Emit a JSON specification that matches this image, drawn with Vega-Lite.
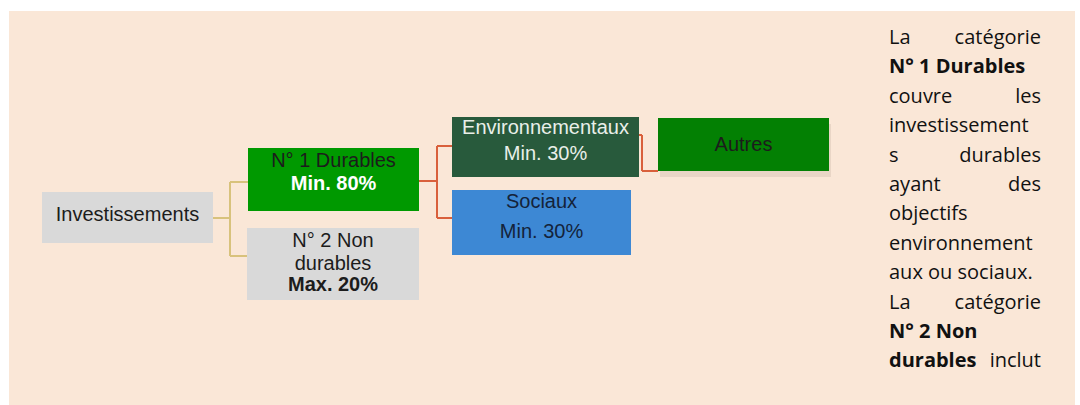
{
  "$schema": "https://vega.github.io/schema/vega-lite/v6.json",
  "width": 1080,
  "height": 405,
  "autosize": {"type": "fit", "contains": "padding"},
  "padding": 0,
  "background": "#ffffff",
  "config": {"view": {"stroke": null}},
  "datasets": {
    "boxes": [
      {"id": "fond", "x0": 9, "x1": 1075, "y0": 11, "y1": 405},
      {"id": "ombre", "x0": 660, "x1": 831, "y0": 124, "y1": 177},
      {"id": "inv", "x0": 42, "x1": 213, "y0": 192, "y1": 243},
      {"id": "d1", "x0": 248, "x1": 419, "y0": 148, "y1": 211},
      {"id": "d2", "x0": 247, "x1": 419, "y0": 228, "y1": 300},
      {"id": "env", "x0": 452, "x1": 639, "y0": 117, "y1": 177},
      {"id": "soc", "x0": 452, "x1": 631, "y0": 190, "y1": 255},
      {"id": "aut", "x0": 658, "x1": 829, "y0": 118, "y1": 171}
    ],
    "links": [
      {"grp": "tan", "x0": 213, "y0": 218, "x1": 230, "y1": 218},
      {"grp": "tan", "x0": 230, "y0": 182, "x1": 230, "y1": 256},
      {"grp": "tan", "x0": 230, "y0": 182, "x1": 248, "y1": 182},
      {"grp": "tan", "x0": 230, "y0": 256, "x1": 247, "y1": 256},
      {"grp": "red", "x0": 419, "y0": 181, "x1": 437, "y1": 181},
      {"grp": "red", "x0": 437, "y0": 146, "x1": 437, "y1": 218},
      {"grp": "red", "x0": 437, "y0": 146, "x1": 452, "y1": 146},
      {"grp": "red", "x0": 437, "y0": 218, "x1": 452, "y1": 218},
      {"grp": "red", "x0": 639, "y0": 135, "x1": 642, "y1": 135},
      {"grp": "red", "x0": 642, "y0": 135, "x1": 642, "y1": 171},
      {"grp": "red", "x0": 642, "y0": 171, "x1": 658, "y1": 171}
    ],
    "labels": [
      {"t": "Investissements", "x": 127.5, "y": 221, "w": "n", "tone": "dark"},
      {"t": "N° 1 Durables", "x": 333.5, "y": 167, "w": "n", "tone": "dark"},
      {"t": "Min. 80%", "x": 333.5, "y": 190, "w": "b", "tone": "white"},
      {"t": "N° 2 Non", "x": 333, "y": 247, "w": "n", "tone": "dark"},
      {"t": "durables", "x": 333, "y": 270, "w": "n", "tone": "dark"},
      {"t": "Max. 20%", "x": 333, "y": 291, "w": "b", "tone": "dark"},
      {"t": "Environnementaux", "x": 545.5, "y": 134, "w": "n", "tone": "light"},
      {"t": "Min. 30%", "x": 545.5, "y": 160, "w": "n", "tone": "light"},
      {"t": "Sociaux", "x": 541.5, "y": 208, "w": "n", "tone": "navy"},
      {"t": "Min. 30%", "x": 541.5, "y": 238, "w": "n", "tone": "navy"},
      {"t": "Autres", "x": 743.5, "y": 151, "w": "n", "tone": "dark"}
    ],
    "para": [
      {"t": "La", "line": 1, "side": "L", "w": "n"},
      {"t": "catégorie", "line": 1, "side": "R", "w": "n"},
      {"t": "N° 1 Durables", "line": 2, "side": "L", "w": "b"},
      {"t": "couvre", "line": 3, "side": "L", "w": "n"},
      {"t": "les", "line": 3, "side": "R", "w": "n"},
      {"t": "investissement", "line": 4, "side": "L", "w": "n"},
      {"t": "s", "line": 5, "side": "L", "w": "n"},
      {"t": "durables", "line": 5, "side": "R", "w": "n"},
      {"t": "ayant", "line": 6, "side": "L", "w": "n"},
      {"t": "des", "line": 6, "side": "R", "w": "n"},
      {"t": "objectifs", "line": 7, "side": "L", "w": "n"},
      {"t": "environnement", "line": 8, "side": "L", "w": "n"},
      {"t": "aux ou sociaux.", "line": 9, "side": "L", "w": "n"},
      {"t": "La", "line": 10, "side": "L", "w": "n"},
      {"t": "catégorie", "line": 10, "side": "R", "w": "n"},
      {"t": "N° 2 Non", "line": 11, "side": "L", "w": "b"},
      {"t": "durables", "line": 12, "side": "L", "w": "b"},
      {"t": "inclut", "line": 12, "side": "R", "w": "n"}
    ],
    "cols": [
      {"side": "L", "x": 889},
      {"side": "R", "x": 1041}
    ],
    "rows": [
      {"line": 1, "y": 44}, {"line": 2, "y": 73.4}, {"line": 3, "y": 102.8},
      {"line": 4, "y": 132.2}, {"line": 5, "y": 161.6}, {"line": 6, "y": 191},
      {"line": 7, "y": 220.4}, {"line": 8, "y": 249.8}, {"line": 9, "y": 279.2},
      {"line": 10, "y": 308.6}, {"line": 11, "y": 338}, {"line": 12, "y": 367.4}
    ]
  },
  "layer": [
    {
      "data": {"name": "boxes"},
      "mark": {"type": "rect"},
      "encoding": {
        "x": {"field": "x0", "type": "quantitative", "scale": {"domain": [0, 1080], "nice": false, "zero": false}, "axis": null},
        "x2": {"field": "x1"},
        "y": {"field": "y0", "type": "quantitative", "scale": {"domain": [0, 405], "nice": false, "zero": false, "reverse": true}, "axis": null},
        "y2": {"field": "y1"},
        "color": {"field": "id", "type": "nominal", "legend": null,
          "scale": {"domain": ["fond", "ombre", "inv", "d1", "d2", "env", "soc", "aut"],
                    "range": ["#fae7d7", "#e9d6c6", "#d9d9d9", "#009900", "#d9d9d9", "#285a3c", "#3d88d4", "#038003"]}}
      }
    },
    {
      "data": {"name": "links"},
      "mark": {"type": "rule", "strokeWidth": 2},
      "encoding": {
        "x": {"field": "x0", "type": "quantitative", "scale": {"domain": [0, 1080], "nice": false, "zero": false}, "axis": null},
        "x2": {"field": "x1"},
        "y": {"field": "y0", "type": "quantitative", "scale": {"domain": [0, 405], "nice": false, "zero": false, "reverse": true}, "axis": null},
        "y2": {"field": "y1"},
        "color": {"field": "grp", "type": "nominal", "legend": null,
          "scale": {"domain": ["tan", "red"], "range": ["#d8c27c", "#d9603c"]}}
      }
    },
    {
      "data": {"name": "labels"},
      "transform": [{"filter": "datum.w == 'n'"}],
      "mark": {"type": "text", "font": "Liberation Sans", "fontSize": 20, "align": "center", "baseline": "alphabetic"},
      "encoding": {
        "x": {"field": "x", "type": "quantitative", "scale": {"domain": [0, 1080], "nice": false, "zero": false}, "axis": null},
        "y": {"field": "y", "type": "quantitative", "scale": {"domain": [0, 405], "nice": false, "zero": false, "reverse": true}, "axis": null},
        "text": {"field": "t"},
        "color": {"field": "tone", "type": "nominal", "legend": null,
          "scale": {"domain": ["dark", "white", "light", "navy"], "range": ["#1c1c1c", "#ffffff", "#e9efe9", "#14233a"]}}
      }
    },
    {
      "data": {"name": "labels"},
      "transform": [{"filter": "datum.w == 'b'"}],
      "mark": {"type": "text", "font": "Liberation Sans", "fontSize": 20, "fontWeight": "bold", "align": "center", "baseline": "alphabetic"},
      "encoding": {
        "x": {"field": "x", "type": "quantitative", "scale": {"domain": [0, 1080], "nice": false, "zero": false}, "axis": null},
        "y": {"field": "y", "type": "quantitative", "scale": {"domain": [0, 405], "nice": false, "zero": false, "reverse": true}, "axis": null},
        "text": {"field": "t"},
        "color": {"field": "tone", "type": "nominal", "legend": null,
          "scale": {"domain": ["dark", "white", "light", "navy"], "range": ["#1c1c1c", "#ffffff", "#e9efe9", "#14233a"]}}
      }
    },
    {
      "data": {"name": "para"},
      "transform": [
        {"filter": "datum.side == 'L' && datum.w == 'n'"},
        {"lookup": "line", "from": {"data": {"name": "rows"}, "key": "line", "fields": ["y"]}},
        {"lookup": "side", "from": {"data": {"name": "cols"}, "key": "side", "fields": ["x"]}}
      ],
      "mark": {"type": "text", "font": "Open Sans", "fontSize": 20, "align": "left", "baseline": "alphabetic", "color": "#111111"},
      "encoding": {
        "x": {"field": "x", "type": "quantitative", "scale": {"domain": [0, 1080], "nice": false, "zero": false}, "axis": null},
        "y": {"field": "y", "type": "quantitative", "scale": {"domain": [0, 405], "nice": false, "zero": false, "reverse": true}, "axis": null},
        "text": {"field": "t"}
      }
    },
    {
      "data": {"name": "para"},
      "transform": [
        {"filter": "datum.side == 'L' && datum.w == 'b'"},
        {"lookup": "line", "from": {"data": {"name": "rows"}, "key": "line", "fields": ["y"]}},
        {"lookup": "side", "from": {"data": {"name": "cols"}, "key": "side", "fields": ["x"]}}
      ],
      "mark": {"type": "text", "font": "Open Sans", "fontSize": 20, "fontWeight": "bold", "align": "left", "baseline": "alphabetic", "color": "#111111"},
      "encoding": {
        "x": {"field": "x", "type": "quantitative", "scale": {"domain": [0, 1080], "nice": false, "zero": false}, "axis": null},
        "y": {"field": "y", "type": "quantitative", "scale": {"domain": [0, 405], "nice": false, "zero": false, "reverse": true}, "axis": null},
        "text": {"field": "t"}
      }
    },
    {
      "data": {"name": "para"},
      "transform": [
        {"filter": "datum.side == 'R'"},
        {"lookup": "line", "from": {"data": {"name": "rows"}, "key": "line", "fields": ["y"]}},
        {"lookup": "side", "from": {"data": {"name": "cols"}, "key": "side", "fields": ["x"]}}
      ],
      "mark": {"type": "text", "font": "Open Sans", "fontSize": 20, "align": "right", "baseline": "alphabetic", "color": "#111111"},
      "encoding": {
        "x": {"field": "x", "type": "quantitative", "scale": {"domain": [0, 1080], "nice": false, "zero": false}, "axis": null},
        "y": {"field": "y", "type": "quantitative", "scale": {"domain": [0, 405], "nice": false, "zero": false, "reverse": true}, "axis": null},
        "text": {"field": "t"}
      }
    }
  ],
  "resolve": {"scale": {"color": "independent"}}
}
